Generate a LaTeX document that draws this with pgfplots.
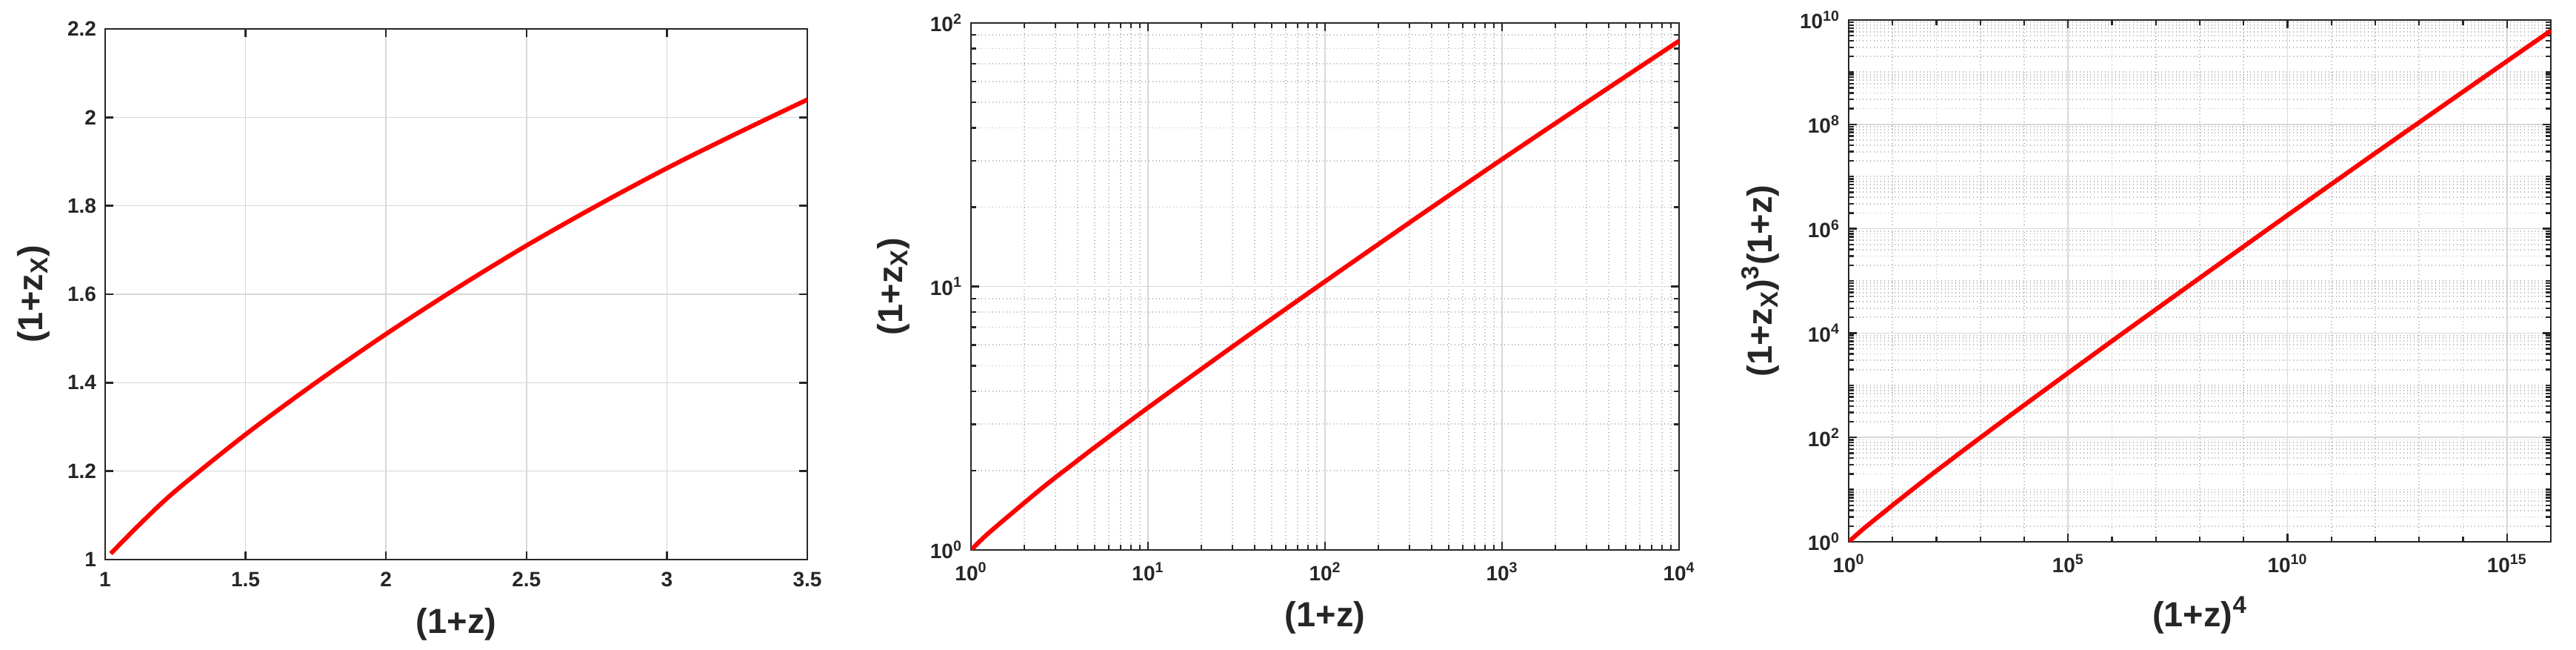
\documentclass[border=0pt]{standalone}
\usepackage{fontspec}
\setmainfont{Liberation Sans}
\usepackage{pgfplots}
\pgfplotsset{compat=1.18}
\definecolor{axc}{HTML}{262626}
\definecolor{gridc}{HTML}{D8D8D8}
\definecolor{minorc}{HTML}{B2B2B2}
\pgfplotsset{mystyle/.style={
  scale only axis,
  anchor=south west,
  axis line style={axc, line width=1.2pt},
  every tick/.style={axc, line width=1.2pt},
  major tick length=5.5pt, minor tick length=3.5pt,
  tick align=inside,
  ticklabel style={font=\fontsize{14}{16}\selectfont\bfseries, text=axc},
  xticklabel style={yshift=-5pt},
  yticklabel style={xshift=-2.5pt},
  label style={font=\fontsize{23.5}{27}\selectfont\bfseries, text=axc},
  major grid style={gridc, line width=0.8pt},
  minor grid style={minorc, dotted, line width=0.9pt},
  /pgf/number format/assume math mode=true,
}}
\begin{document}
\begin{tikzpicture}
\path (0,0) rectangle (1739pt,438.5pt);
% Panel 1
\begin{axis}[mystyle, at={(71pt,61pt)}, width=474pt, height=358pt,
  xmin=1, xmax=3.5, ymin=1, ymax=2.2,
  xtick={1,1.5,2,2.5,3,3.5}, ytick={1,1.2,1.4,1.6,1.8,2,2.2},
  grid=major,
  xlabel style={at={([yshift=-43.5pt]rel axis cs:0.5,0)}, anchor=center},
  ylabel style={at={([xshift=-48.5pt]rel axis cs:0,0.5)}, anchor=center},
  xlabel={(1+z)}, ylabel={(1+z\textsubscript{X})}]
\addplot[red, line width=3pt, smooth] coordinates {
(1.02,1.0136) (1.125,1.081) (1.25,1.155) (1.5,1.283) (1.75,1.400) (2,1.510) (2.25,1.613)
(2.5,1.710) (2.75,1.800) (3,1.885) (3.25,1.964) (3.5,2.040)};
\end{axis}
% Panel 2
\begin{axis}[mystyle, at={(655.5pt,67.5pt)}, width=478pt, height=355.5pt,
  xmode=log, ymode=log, xmin=1, xmax=1e4, ymin=1, ymax=100,
  xtick={1,10,100,1000,10000},
  xticklabels={10\textsuperscript{0},10\textsuperscript{1},10\textsuperscript{2},10\textsuperscript{3},10\textsuperscript{4}},
  ytick={1,10,100},
  yticklabels={10\textsuperscript{0},10\textsuperscript{1},10\textsuperscript{2}},
  minor xtick={2,3,4,5,6,7,8,9,20,30,40,50,60,70,80,90,200,300,400,500,600,700,800,900,2000,3000,4000,5000,6000,7000,8000,9000},
  minor ytick={2,3,4,5,6,7,8,9,20,30,40,50,60,70,80,90},
  grid=both,
  xlabel style={at={([yshift=-45.5pt]rel axis cs:0.5,0)}, anchor=center},
  ylabel style={at={([xshift=-52.5pt]rel axis cs:0,0.5)}, anchor=center},
  xlabel={(1+z)}, ylabel={(1+z\textsubscript{X})}]
\addplot[red, line width=3pt, smooth] coordinates {
(1,1) (1.125,1.081) (1.25,1.155) (1.5,1.283) (1.75,1.400) (2,1.510) (2.5,1.710)
(3,1.885) (3.5,2.040) (5,2.452) (10,3.467) (31.62,6.06) (100,10.45)
(316.2,17.9) (1000,30.4) (3162,51.1) (10000,85.5)};
\end{axis}
% Panel 3
\begin{axis}[mystyle, at={(1248pt,73pt)}, width=474pt, height=352pt,
  xmode=log, ymode=log, xmin=1, xmax=1e16, ymin=1, ymax=1e10,
  xtick={1,1e5,1e10,1e15},
  xticklabels={10\textsuperscript{0},10\textsuperscript{5},10\textsuperscript{10},10\textsuperscript{15}},
  minor xtick={1e1,1e2,1e3,1e4,1e6,1e7,1e8,1e9,1e11,1e12,1e13,1e14,1e16},
  ytick={1,1e2,1e4,1e6,1e8,1e10},
  yticklabels={10\textsuperscript{0},10\textsuperscript{2},10\textsuperscript{4},10\textsuperscript{6},10\textsuperscript{8},10\textsuperscript{10}},
  minor ytick={2e0,3e0,4e0,5e0,6e0,7e0,8e0,9e0,1e1,2e1,3e1,4e1,5e1,6e1,7e1,8e1,9e1,
    2e2,3e2,4e2,5e2,6e2,7e2,8e2,9e2,1e3,2e3,3e3,4e3,5e3,6e3,7e3,8e3,9e3,
    2e4,3e4,4e4,5e4,6e4,7e4,8e4,9e4,1e5,2e5,3e5,4e5,5e5,6e5,7e5,8e5,9e5,
    2e6,3e6,4e6,5e6,6e6,7e6,8e6,9e6,1e7,2e7,3e7,4e7,5e7,6e7,7e7,8e7,9e7,
    2e8,3e8,4e8,5e8,6e8,7e8,8e8,9e8,1e9,2e9,3e9,4e9,5e9,6e9,7e9,8e9,9e9},
  grid=both,
  xlabel style={at={([yshift=-49.5pt]rel axis cs:0.5,0)}, anchor=center},
  ylabel style={at={([xshift=-59.5pt]rel axis cs:0,0.5)}, anchor=center},
  xlabel={(1+z)\textsuperscript{4}}, ylabel={(1+z\textsubscript{X})\textsuperscript{3}(1+z)}]
\addplot[red, line width=3pt, smooth] coordinates {
(1,1) (1.602,1.421) (2.441,1.926) (5.0625,3.168) (16,6.887) (81,20.09) (150.06,29.71)
(625,73.66) (1e4,416.9) (1e6,7040) (1e8,1.140e5) (1e10,1.816e6) (1e12,2.812e7)
(1e14,4.222e8) (1e16,6.25e9)};
\end{axis}
\end{tikzpicture}
\end{document}
